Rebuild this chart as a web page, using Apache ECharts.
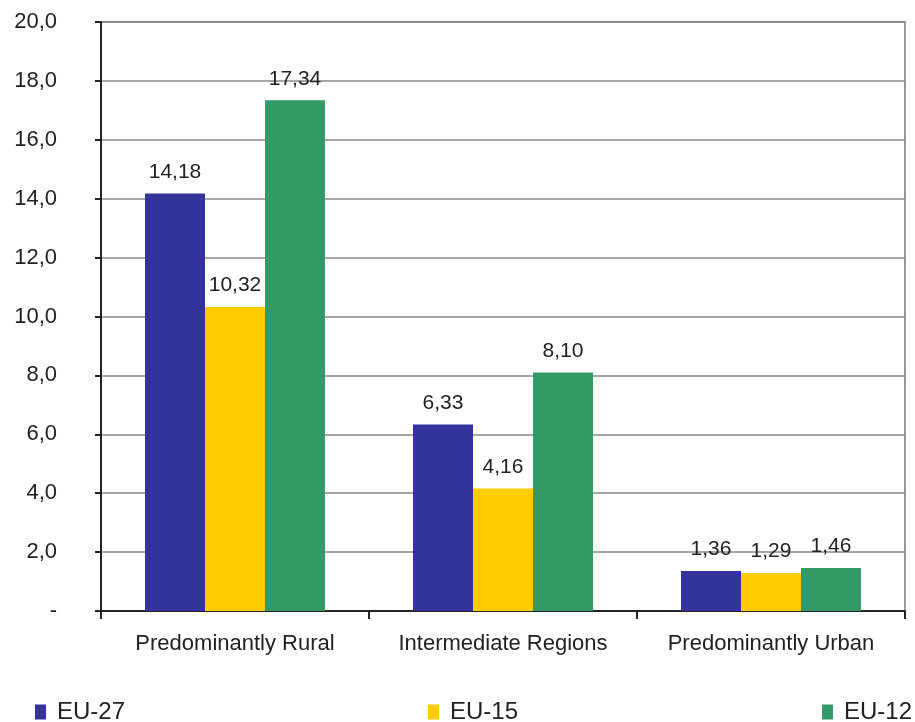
<!DOCTYPE html>
<html><head><meta charset="utf-8">
<script src="https://cdn.jsdelivr.net/npm/echarts@6/dist/echarts.min.js"></script>
<style>html,body{margin:0;padding:0;background:#fff}#c{width:915px;height:722px}</style>
</head><body><div id="c"></div>
<script>
const categories = ['Predominantly Rural', 'Intermediate Regions', 'Predominantly Urban'];
const seriesNames = ['EU-27', 'EU-15', 'EU-12'];
const eu27 = [14.18, 6.33, 1.36];
const eu15 = [10.32, 4.16, 1.29];
const eu12 = [17.34, 8.10, 1.46];
const colors = ['#333399', '#FFCC00', '#339966'];
const values = [eu27, eu15, eu12];

const chart = echarts.init(document.getElementById('c'), null, {renderer: 'canvas'});
const font = 'Liberation Sans, Arial, sans-serif';
const fmt = v => v.toFixed(2).replace('.', ',');

chart.setOption({
  animation: false,
  color: colors,
  grid: {left: 101, right: 10, top: 22, bottom: 111, show: true, borderColor: '#777', borderWidth: 1.5},
  legend: [0, 1, 2].map(i => ({
    data: [seriesNames[i]],
    left: [35, 428, 822][i],
    top: 700,
    padding: 0,
    itemWidth: 11,
    itemHeight: 15,
    icon: 'rect',
    textStyle: {fontFamily: font, fontSize: 24, color: '#222', padding: [0, 0, 0, 6]}
  })),
  xAxis: {
    type: 'category',
    data: categories,
    axisLine: {lineStyle: {color: '#222', width: 2}},
    axisTick: {show: true, interval: 0, length: 8, lineStyle: {color: '#222', width: 2}},
    axisLabel: {interval: 0, fontFamily: font, fontSize: 22, color: '#222', margin: 22}
  },
  yAxis: {
    type: 'value',
    min: 0, max: 20, interval: 2,
    axisLine: {show: true, lineStyle: {color: '#222', width: 2}},
    axisTick: {show: true, length: 6, lineStyle: {color: '#222', width: 2}},
    axisLabel: {fontFamily: font, fontSize: 22, color: '#222', margin: 44, align: 'right',
      formatter: v => v === 0 ? '-' : v.toFixed(1).replace('.', ',')},
    splitLine: {lineStyle: {color: '#888', width: 1.5}}
  },
  series: [0, 1, 2].map(i => ({
    name: seriesNames[i],
    type: 'bar',
    data: values[i],
    barWidth: 60,
    barGap: '0%',
    itemStyle: {color: colors[i]},
    label: {show: true, position: 'top', distance: 11, fontFamily: font, fontSize: 21, color: '#222',
      formatter: p => fmt(p.value)}
  }))
});
</script></body></html>
